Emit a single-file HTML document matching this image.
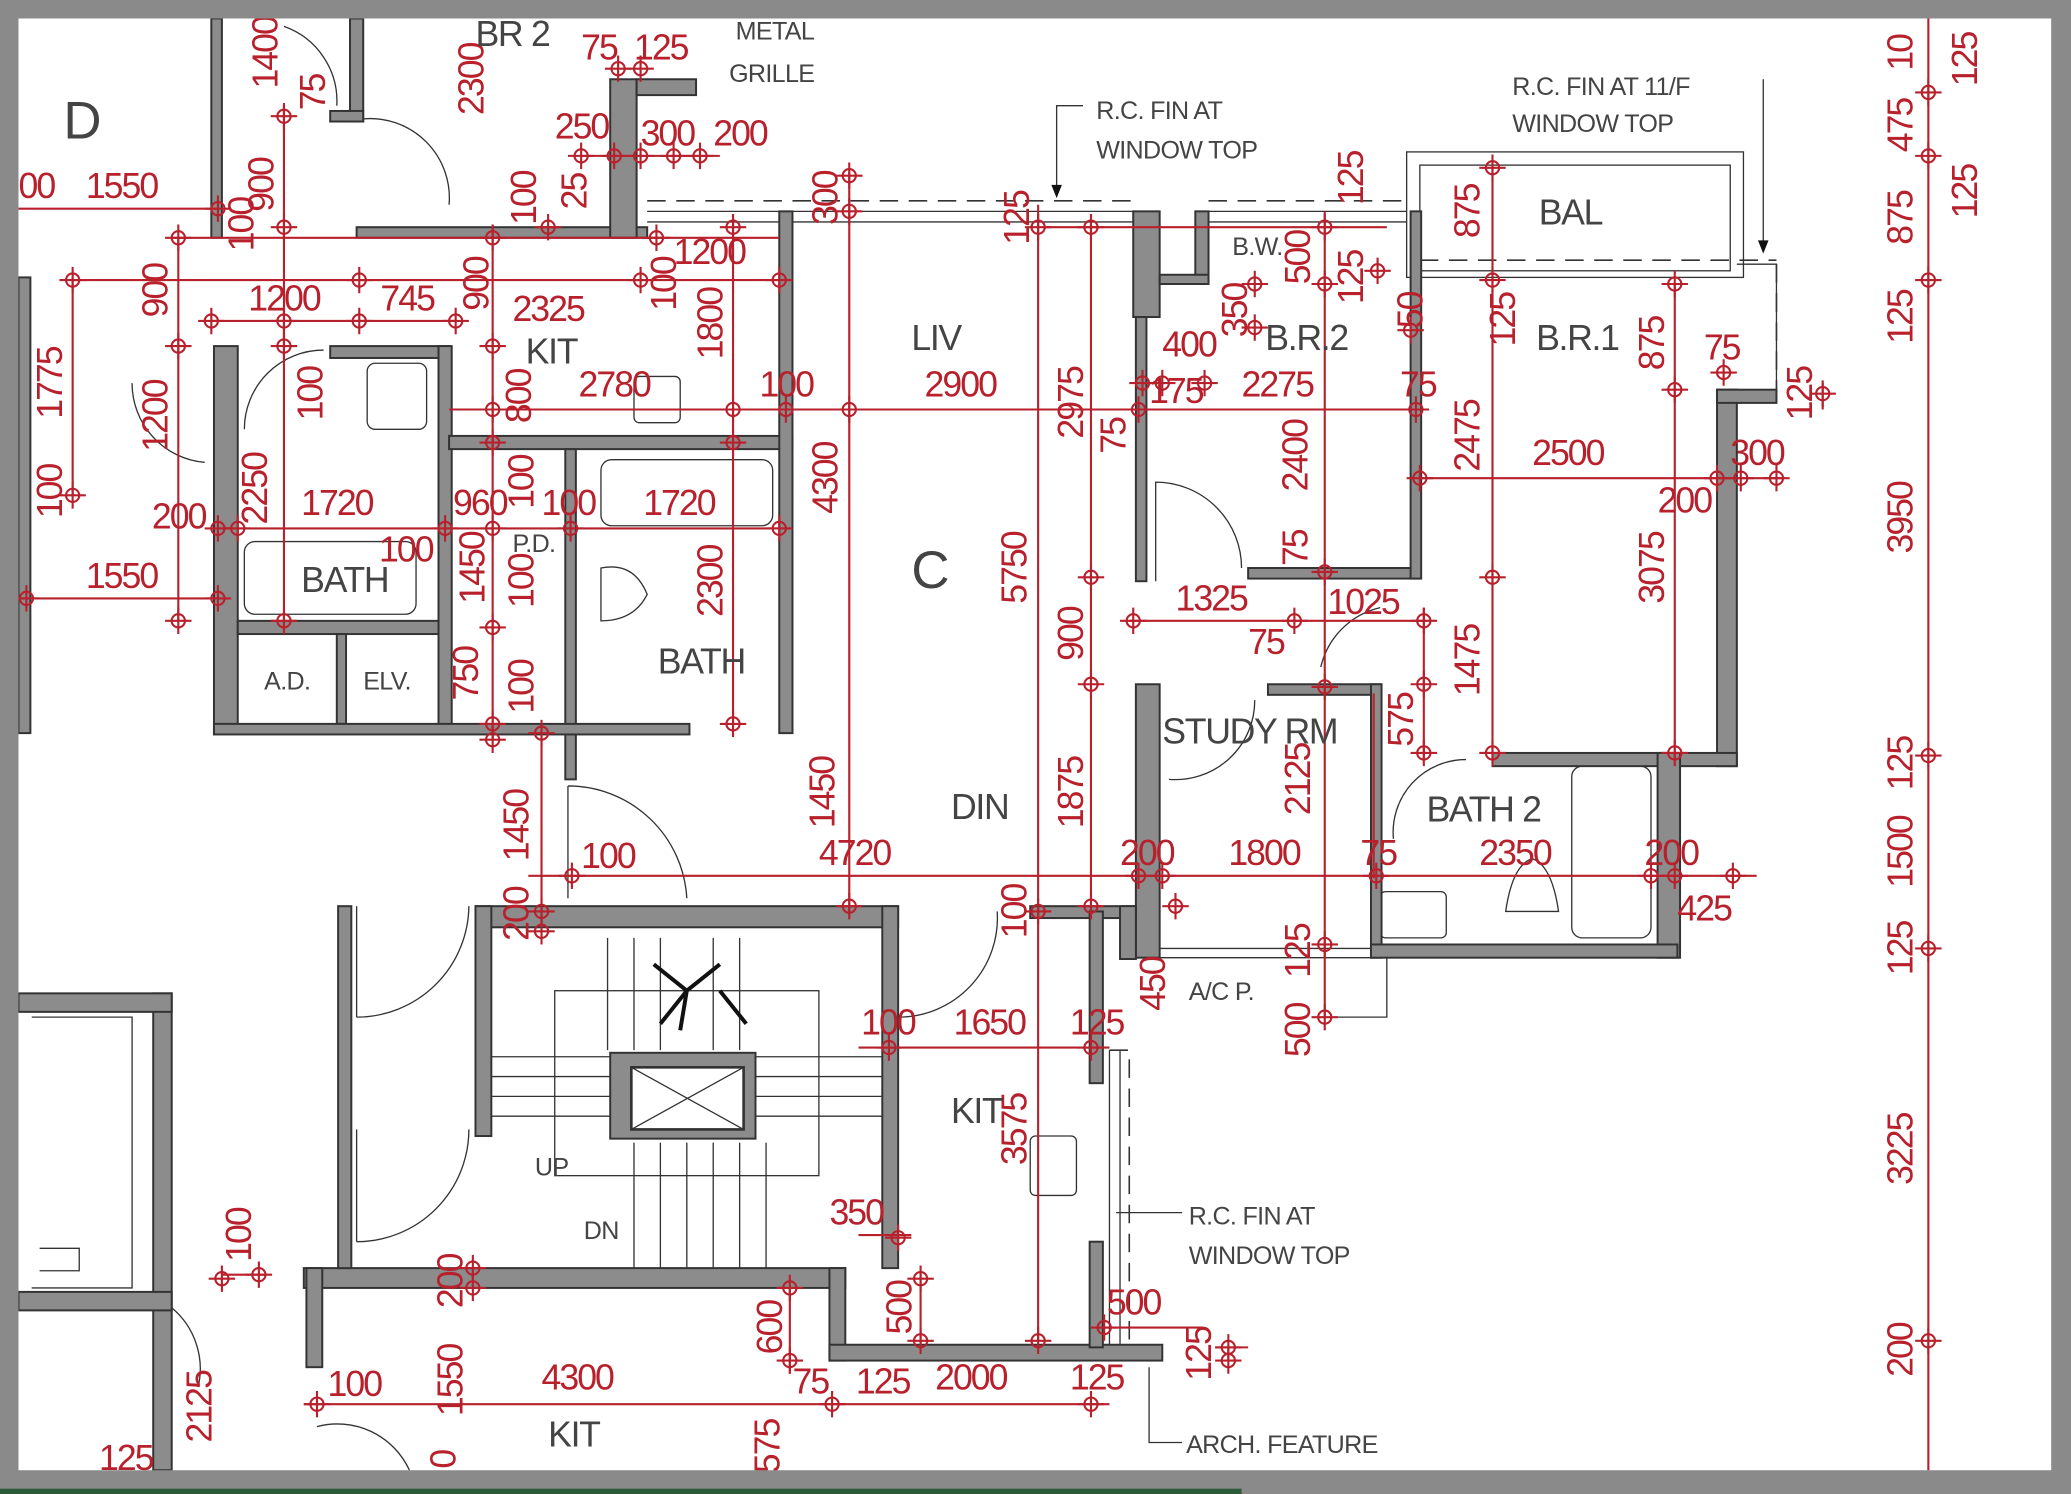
<!DOCTYPE html>
<html><head><meta charset="utf-8"><style>
html,body{margin:0;padding:0;background:#fff;width:2071px;height:1494px;overflow:hidden}
svg{display:block}
.d{font-family:"Liberation Sans Narrow","Liberation Sans",sans-serif;font-size:27px;letter-spacing:-1.5px;fill:#b8202c}
.t{font-family:"Liberation Sans Narrow","Liberation Sans",sans-serif;font-size:27px;letter-spacing:-1px;fill:#444}
.s{font-family:"Liberation Sans Narrow","Liberation Sans",sans-serif;font-size:19px;letter-spacing:-0.5px;fill:#444}
.w{fill:#8c8c8c;stroke:#333;stroke-width:1.5}
.r{stroke:#b8202c;stroke-width:1.6;fill:none}
.k{stroke:#333;stroke-width:1;fill:none}
.dash{stroke:#333;stroke-width:1.2;fill:none;stroke-dasharray:14 8}
</style></head><body>
<svg width="2071" height="1494" viewBox="0 0 1568 1131" preserveAspectRatio="none">
<defs><g id="c"><circle r="5" fill="none" stroke="#b8202c" stroke-width="1.6"/><path d="M-10 0H10M0 -10V10" stroke="#b8202c" stroke-width="1.6"/></g></defs>
<rect width="1568" height="1131" fill="#fff"/>
<g class="k">
<path d="M490 160H860M490 168H860M915 160H1065M915 168H1065"/>
<rect x="1065" y="115" width="255" height="95"/><rect x="1075" y="125" width="235" height="80"/>
<path d="M1315 200H1345V300"/>
<path d="M1050 725V770H1003M878 725H1040M878 718H1040"/>
<path d="M840 795V1020M848 795V1020"/>
<rect x="420" y="750" width="200" height="140"/>
<path d="M372 800H668M372 815H668M372 830H668M372 845H668M480 865V960M500 865V960M520 865V960M540 865V960M560 865V960M580 865V960M460 710V795M480 710V795M500 710V795M540 710V795M560 710V795"/>
<path d="M24 770H100V975H24"/><path d="M30 945H60V962H30"/>
<rect x="185" y="410" width="130" height="55" rx="8"/>
<rect x="455" y="348" width="130" height="50" rx="8"/>
<rect x="1190" y="580" width="60" height="130" rx="8"/>
<rect x="278" y="275" width="45" height="50" rx="6"/><rect x="480" y="285" width="35" height="35" rx="4"/>
<rect x="780" y="860" width="35" height="45" rx="4"/><rect x="1045" y="675" width="50" height="35" rx="4"/>
<path d="M455 430Q480 425 490 450Q480 470 455 470Z"/><path d="M1140 690Q1145 655 1160 650Q1175 655 1180 690Z"/>
<path d="M270 770A85 85 0 0 0 355 686M270 770V686M270 940A85 85 0 0 0 355 855M270 940V855"/>
<path d="M680 770A75 75 0 0 0 755 690M430 595A90 90 0 0 1 520 680M430 680V595"/>
<path d="M875 440V365A65 65 0 0 1 940 430M885 590A60 60 0 0 0 950 530M1055 635A55 55 0 0 1 1110 575"/>
<path d="M185 325A60 60 0 0 1 245 265M100 290A60 60 0 0 0 155 350M275 90A60 60 0 0 1 340 155M215 20A60 60 0 0 1 255 80"/>
<path d="M150 1050A60 60 0 0 0 130 990M240 1080A60 60 0 0 1 310 1113M1000 505A60 60 0 0 1 1045 460"/>
</g>
<path class="dash" d="M490 152H860M915 152H1065M1075 197H1345M1345 200V295M840 795H855V1020"/>
<g class="w">
<rect x="14" y="210" width="9" height="345"/>
<rect x="160" y="14" width="8" height="166"/><rect x="265" y="14" width="10" height="78"/><rect x="250" y="84" width="25" height="8"/>
<rect x="270" y="172" width="220" height="8"/><rect x="462" y="60" width="20" height="120"/><rect x="482" y="60" width="45" height="12"/>
<rect x="162" y="262" width="18" height="293"/><rect x="250" y="262" width="90" height="9"/><rect x="332" y="262" width="10" height="293"/>
<rect x="340" y="330" width="260" height="10"/><rect x="590" y="160" width="10" height="395"/><rect x="428" y="340" width="8" height="250"/>
<rect x="180" y="470" width="152" height="10"/><rect x="255" y="480" width="7" height="68"/><rect x="162" y="548" width="360" height="8"/>
<rect x="858" y="160" width="20" height="80"/><rect x="860" y="240" width="8" height="200"/><rect x="905" y="160" width="10" height="55"/><rect x="878" y="208" width="37" height="7"/>
<rect x="945" y="430" width="130" height="8"/><rect x="1068" y="160" width="8" height="278"/>
<rect x="1300" y="295" width="15" height="285"/><rect x="1300" y="295" width="45" height="10"/><rect x="1130" y="570" width="185" height="10"/><rect x="1255" y="570" width="17" height="155"/>
<rect x="860" y="518" width="18" height="207"/><rect x="960" y="518" width="85" height="8"/><rect x="1038" y="518" width="8" height="207"/><rect x="1038" y="715" width="232" height="10"/>
<rect x="360" y="686" width="320" height="16"/><rect x="360" y="686" width="12" height="174"/><rect x="668" y="686" width="12" height="274"/>
<rect x="230" y="960" width="410" height="15"/><rect x="628" y="960" width="12" height="70"/><rect x="628" y="1018" width="252" height="12"/>
<rect x="780" y="686" width="80" height="9"/><rect x="848" y="686" width="12" height="40"/><rect x="825" y="690" width="10" height="130"/><rect x="825" y="940" width="10" height="80"/>
<rect x="256" y="686" width="10" height="274"/>
<rect x="116" y="752" width="14" height="361"/><rect x="14" y="752" width="116" height="14"/><rect x="14" y="978" width="116" height="14"/>
<rect x="232" y="960" width="12" height="75"/>
<rect x="462" y="797" width="110" height="65"/>
</g>
<rect x="478" y="808" width="85" height="47" fill="#fff" stroke="#333" stroke-width="2"/><path d="M478 808L563 855M563 808L478 855" stroke="#333"/>
<path d="M495 730L520 750L545 730M520 750L515 780M545 750L565 775M500 775L520 750" stroke="#111" stroke-width="3" fill="none"/>
<g class="r">
<path d="M1460 14V1113M340 310H1075M400 663H1330M650 793H840M230 1063H840M786 155V1015M826 170V690M643 130V690M1130 125V575M1268 215V575M1075 362H1350M855 470H1080M373 170V560M555 165V550M215 80V475M14 158H165M14 453H165M165 400H600M160 243H345M55 212H590M55 210V375M135 180V470M1003 160V770M440 118H545M410 555V700M130 180H590M598 975V1040M697 965V1020M790 172H1050M1040 525V665M1078 460V575M168 965H200M650 935H690M830 1005H910M920 1020H945M1380 290V310"/>
</g>
<g>
<use href="#c" x="1460" y="70"/><use href="#c" x="1460" y="118"/><use href="#c" x="1460" y="212"/><use href="#c" x="1460" y="572"/><use href="#c" x="1460" y="718"/><use href="#c" x="1460" y="1015"/>
<use href="#c" x="373" y="310"/><use href="#c" x="555" y="310"/><use href="#c" x="595" y="310"/><use href="#c" x="643" y="310"/><use href="#c" x="862" y="310"/><use href="#c" x="1072" y="310"/>
<use href="#c" x="433" y="663"/><use href="#c" x="643" y="686"/><use href="#c" x="862" y="663"/><use href="#c" x="880" y="663"/><use href="#c" x="1042" y="663"/><use href="#c" x="1250" y="663"/><use href="#c" x="1268" y="663"/><use href="#c" x="1312" y="663"/>
<use href="#c" x="673" y="793"/><use href="#c" x="826" y="793"/><use href="#c" x="240" y="1063"/><use href="#c" x="630" y="1063"/><use href="#c" x="826" y="1063"/>
<use href="#c" x="786" y="172"/><use href="#c" x="826" y="172"/><use href="#c" x="643" y="160"/><use href="#c" x="643" y="133"/><use href="#c" x="786" y="690"/><use href="#c" x="826" y="686"/><use href="#c" x="826" y="437"/><use href="#c" x="826" y="518"/><use href="#c" x="786" y="1015"/>
<use href="#c" x="1130" y="127"/><use href="#c" x="1130" y="212"/><use href="#c" x="1130" y="437"/><use href="#c" x="1130" y="570"/><use href="#c" x="1268" y="215"/><use href="#c" x="1268" y="295"/><use href="#c" x="1268" y="570"/>
<use href="#c" x="1075" y="362"/><use href="#c" x="1300" y="362"/><use href="#c" x="1318" y="362"/><use href="#c" x="1345" y="362"/><use href="#c" x="1305" y="282"/><use href="#c" x="1380" y="298"/>
<use href="#c" x="858" y="470"/><use href="#c" x="980" y="470"/><use href="#c" x="1078" y="470"/><use href="#c" x="1078" y="518"/><use href="#c" x="1078" y="570"/>
<use href="#c" x="1003" y="172"/><use href="#c" x="1003" y="215"/><use href="#c" x="1003" y="433"/><use href="#c" x="1003" y="520"/><use href="#c" x="1003" y="715"/><use href="#c" x="1003" y="770"/><use href="#c" x="950" y="215"/><use href="#c" x="950" y="248"/><use href="#c" x="1043" y="205"/><use href="#c" x="1068" y="250"/>
<use href="#c" x="865" y="290"/><use href="#c" x="880" y="290"/><use href="#c" x="912" y="290"/>
<use href="#c" x="373" y="180"/><use href="#c" x="373" y="262"/><use href="#c" x="373" y="335"/><use href="#c" x="373" y="400"/><use href="#c" x="373" y="475"/><use href="#c" x="373" y="548"/><use href="#c" x="373" y="560"/>
<use href="#c" x="555" y="172"/><use href="#c" x="555" y="335"/><use href="#c" x="555" y="548"/><use href="#c" x="590" y="212"/><use href="#c" x="590" y="400"/>
<use href="#c" x="215" y="88"/><use href="#c" x="215" y="172"/><use href="#c" x="215" y="262"/><use href="#c" x="215" y="243"/><use href="#c" x="215" y="470"/>
<use href="#c" x="165" y="158"/><use href="#c" x="165" y="453"/><use href="#c" x="20" y="453"/><use href="#c" x="165" y="400"/><use href="#c" x="180" y="400"/><use href="#c" x="337" y="400"/><use href="#c" x="432" y="400"/>
<use href="#c" x="160" y="243"/><use href="#c" x="272" y="243"/><use href="#c" x="345" y="243"/><use href="#c" x="55" y="212"/><use href="#c" x="55" y="375"/><use href="#c" x="272" y="212"/><use href="#c" x="485" y="212"/>
<use href="#c" x="135" y="180"/><use href="#c" x="135" y="262"/><use href="#c" x="135" y="470"/>
<use href="#c" x="440" y="118"/><use href="#c" x="465" y="118"/><use href="#c" x="485" y="118"/><use href="#c" x="510" y="118"/><use href="#c" x="530" y="118"/><use href="#c" x="468" y="52"/><use href="#c" x="485" y="52"/>
<use href="#c" x="410" y="555"/><use href="#c" x="410" y="690"/><use href="#c" x="410" y="705"/><use href="#c" x="415" y="172"/><use href="#c" x="497" y="180"/>
<use href="#c" x="598" y="975"/><use href="#c" x="598" y="1030"/><use href="#c" x="697" y="968"/><use href="#c" x="697" y="1015"/><use href="#c" x="680" y="937"/>
<use href="#c" x="196" y="965"/><use href="#c" x="168" y="968"/><use href="#c" x="358" y="960"/><use href="#c" x="358" y="975"/><use href="#c" x="836" y="1005"/><use href="#c" x="930" y="1020"/><use href="#c" x="930" y="1030"/><use href="#c" x="890" y="686"/>
</g>
<g class="d">
<text x="14" y="150">00</text><text x="65" y="150">1550</text><text x="440" y="45">75</text><text x="480" y="45">125</text>
<text x="420" y="105">250</text><text x="485" y="110">300</text><text x="540" y="110">200</text><text x="510" y="200">1200</text>
<text x="188" y="235">1200</text><text x="288" y="235">745</text><text x="388" y="243">2325</text>
<text x="438" y="300">2780</text><text x="575" y="300">100</text><text x="700" y="300">2900</text>
<text x="228" y="390">1720</text><text x="343" y="390">960</text><text x="410" y="390">100</text><text x="487" y="390">1720</text>
<text x="115" y="400">200</text><text x="287" y="425">100</text><text x="65" y="445">1550</text>
<text x="880" y="270">400</text><text x="870" y="305">175</text><text x="940" y="300">2275</text><text x="1060" y="300">75</text>
<text x="1160" y="352">2500</text><text x="1310" y="352">300</text><text x="1255" y="388">200</text><text x="1290" y="272">75</text>
<text x="890" y="462">1325</text><text x="1005" y="465">1025</text><text x="945" y="495">75</text>
<text x="440" y="657">100</text><text x="620" y="655">4720</text><text x="848" y="655">200</text><text x="930" y="655">1800</text><text x="1030" y="655">75</text><text x="1120" y="655">2350</text><text x="1245" y="655">200</text><text x="1270" y="697">425</text>
<text x="652" y="783">100</text><text x="722" y="783">1650</text><text x="810" y="783">125</text><text x="628" y="927">350</text><text x="838" y="995">500</text>
<text x="248" y="1057">100</text><text x="410" y="1052">4300</text><text x="600" y="1055">75</text><text x="648" y="1055">125</text><text x="708" y="1052">2000</text><text x="810" y="1052">125</text><text x="75" y="1113">125</text>
</g>
<g class="d" text-anchor="middle">
<text transform="translate(210,40) rotate(-90)">1400</text><text transform="translate(246,70) rotate(-90)">75</text><text transform="translate(207,140) rotate(-90)">900</text><text transform="translate(192,170) rotate(-90)">100</text>
<text transform="translate(366,60) rotate(-90)">2300</text><text transform="translate(406,150) rotate(-90)">100</text><text transform="translate(444,145) rotate(-90)">25</text><text transform="translate(634,150) rotate(-90)">300</text><text transform="translate(779,165) rotate(-90)">125</text>
<text transform="translate(127,220) rotate(-90)">900</text><text transform="translate(47,290) rotate(-90)">1775</text><text transform="translate(127,315) rotate(-90)">1200</text><text transform="translate(47,372) rotate(-90)">100</text>
<text transform="translate(370,215) rotate(-90)">900</text><text transform="translate(512,215) rotate(-90)">100</text><text transform="translate(547,245) rotate(-90)">1800</text><text transform="translate(244,298) rotate(-90)">100</text><text transform="translate(402,300) rotate(-90)">800</text>
<text transform="translate(202,370) rotate(-90)">2250</text><text transform="translate(404,365) rotate(-90)">100</text><text transform="translate(367,430) rotate(-90)">1450</text><text transform="translate(404,440) rotate(-90)">100</text>
<text transform="translate(634,362) rotate(-90)">4300</text><text transform="translate(547,440) rotate(-90)">2300</text><text transform="translate(362,510) rotate(-90)">750</text><text transform="translate(404,520) rotate(-90)">100</text>
<text transform="translate(944,235) rotate(-90)">350</text><text transform="translate(992,195) rotate(-90)">500</text><text transform="translate(1032,135) rotate(-90)">125</text><text transform="translate(1032,210) rotate(-90)">125</text><text transform="translate(1077,235) rotate(-90)">50</text>
<text transform="translate(1120,160) rotate(-90)">875</text><text transform="translate(1147,242) rotate(-90)">125</text><text transform="translate(1260,260) rotate(-90)">875</text>
<text transform="translate(820,305) rotate(-90)">2975</text><text transform="translate(852,330) rotate(-90)">75</text><text transform="translate(990,345) rotate(-90)">2400</text><text transform="translate(1120,330) rotate(-90)">2475</text><text transform="translate(990,415) rotate(-90)">75</text>
<text transform="translate(777,430) rotate(-90)">5750</text><text transform="translate(1260,430) rotate(-90)">3075</text><text transform="translate(820,480) rotate(-90)">900</text><text transform="translate(1120,500) rotate(-90)">1475</text><text transform="translate(1070,545) rotate(-90)">575</text>
<text transform="translate(992,590) rotate(-90)">2125</text><text transform="translate(632,600) rotate(-90)">1450</text><text transform="translate(820,600) rotate(-90)">1875</text><text transform="translate(400,625) rotate(-90)">1450</text><text transform="translate(400,692) rotate(-90)">200</text><text transform="translate(777,690) rotate(-90)">100</text>
<text transform="translate(882,745) rotate(-90)">450</text><text transform="translate(992,720) rotate(-90)">125</text><text transform="translate(992,780) rotate(-90)">500</text><text transform="translate(777,855) rotate(-90)">3575</text>
<text transform="translate(190,935) rotate(-90)">100</text><text transform="translate(350,970) rotate(-90)">200</text><text transform="translate(592,1005) rotate(-90)">600</text><text transform="translate(690,990) rotate(-90)">500</text><text transform="translate(917,1025) rotate(-90)">125</text>
<text transform="translate(160,1065) rotate(-90)">2125</text><text transform="translate(350,1045) rotate(-90)">1550</text><text transform="translate(590,1095) rotate(-90)">575</text><text transform="translate(345,1105) rotate(-90)">0</text>
<text transform="translate(1448,40) rotate(-90)">10</text><text transform="translate(1448,95) rotate(-90)">475</text><text transform="translate(1448,165) rotate(-90)">875</text><text transform="translate(1448,240) rotate(-90)">125</text><text transform="translate(1448,392) rotate(-90)">3950</text>
<text transform="translate(1448,578) rotate(-90)">125</text><text transform="translate(1448,645) rotate(-90)">1500</text><text transform="translate(1448,718) rotate(-90)">125</text><text transform="translate(1448,870) rotate(-90)">3225</text><text transform="translate(1448,1022) rotate(-90)">200</text>
<text transform="translate(1497,45) rotate(-90)">125</text><text transform="translate(1497,145) rotate(-90)">125</text><text transform="translate(1372,298) rotate(-90)">125</text>
</g>
<text class="t" x="48" y="105" style="font-size:40px">D</text>
<text class="t" x="360" y="35">BR 2</text><text class="s" x="557" y="30">METAL</text><text class="s" x="552" y="62">GRILLE</text>
<text class="s" x="830" y="90">R.C. FIN AT</text><text class="s" x="830" y="120">WINDOW TOP</text>
<text class="s" x="1145" y="72">R.C. FIN AT 11/F</text><text class="s" x="1145" y="100">WINDOW TOP</text>
<text class="t" x="1165" y="170">BAL</text><text class="s" x="933" y="193">B.W.</text>
<text class="t" x="958" y="265">B.R.2</text><text class="t" x="1163" y="265">B.R.1</text><text class="t" x="690" y="265">LIV</text><text class="t" x="398" y="275">KIT</text>
<text class="t" x="690" y="445" style="font-size:40px">C</text>
<text class="t" x="228" y="448">BATH</text><text class="s" x="388" y="418">P.D.</text><text class="t" x="498" y="510">BATH</text>
<text class="s" x="200" y="522">A.D.</text><text class="s" x="275" y="522">ELV.</text>
<text class="t" x="880" y="563">STUDY RM</text><text class="t" x="720" y="620">DIN</text><text class="t" x="1080" y="622">BATH 2</text>
<text class="s" x="900" y="757">A/C P.</text><text class="t" x="720" y="850">KIT</text><text class="s" x="405" y="890">UP</text><text class="s" x="442" y="938">DN</text>
<text class="s" x="900" y="927">R.C. FIN AT</text><text class="s" x="900" y="957">WINDOW TOP</text><text class="s" x="898" y="1100">ARCH. FEATURE</text>
<text class="t" x="415" y="1095">KIT</text>
<path d="M820 80H800V148M1335 60V190M870 1035V1092H895M845 918H895" stroke="#333" fill="none"/>
<path d="M796 140L800 150L804 140ZM1331 182L1335 192L1339 182Z" fill="#111"/>
<g fill="#8a8a8a">
<rect x="0" y="0" width="1568" height="14"/><rect x="0" y="0" width="14" height="1131"/><rect x="1553" y="0" width="15" height="1131"/><rect x="0" y="1113" width="1568" height="18"/>
</g>
<rect x="0" y="1127" width="940" height="4" fill="#2b5a3a"/>
</svg>
</body></html>
